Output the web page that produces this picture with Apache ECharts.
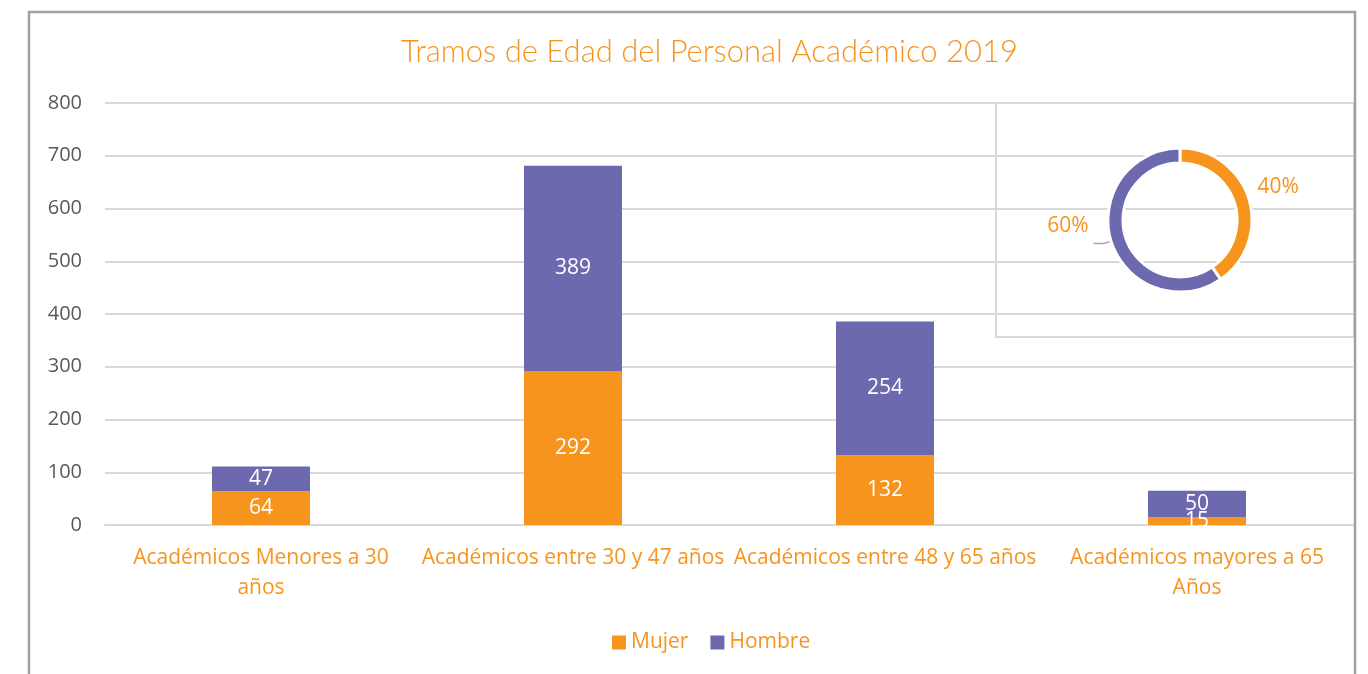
<!DOCTYPE html>
<html>
<head>
<meta charset="utf-8">
<script src="https://cdn.jsdelivr.net/npm/echarts@6/dist/echarts.min.js"></script>
<style>
  html, body { margin: 0; padding: 0; background: #fff; }
  #chart { width: 1368px; height: 674px; }
</style>
</head>
<body>
<div id="chart"></div>
<script>
// 数据
const categories = [
    'Académicos Menores a 30\naños',
    'Académicos entre 30 y 47 años',
    'Académicos entre 48 y 65 años',
    'Académicos mayores a 65\nAños'
];
const mujer = [64, 292, 132, 15];
const hombre = [47, 389, 254, 50];
const yTicks = [0, 100, 200, 300, 400, 500, 600, 700, 800];

const ORANGE = '#F7941D';
const PURPLE = '#6D69AE';
const FONT = '"Open Sans", "Noto Sans", sans-serif';

// 环形图：各性别总数
const sum = arr => arr.reduce((a, b) => a + b, 0);
const donutData = [
    { name: 'Mujer', value: sum(mujer), itemStyle: { color: ORANGE }, labelLine: { show: false } },
    { name: 'Hombre', value: sum(hombre), itemStyle: { color: PURPLE } }
];

const chart = echarts.init(document.getElementById('chart'));

chart.setOption({
    backgroundColor: '#fff',
    animation: false,
    textStyle: { fontFamily: FONT },
    title: {
        text: 'Tramos de Edad del Personal Académico 2019',
        left: 396,
        top: 31,
        textStyle: { color: ORANGE, fontSize: 31, fontWeight: 300, fontFamily: 'Lato, "Open Sans", sans-serif' }
    },
    legend: {
        data: ['Mujer', 'Hombre'],
        bottom: 16,
        left: 607,
        icon: 'rect',
        itemWidth: 14,
        itemHeight: 14,
        itemGap: 22,
        textStyle: { color: ORANGE, fontSize: 21, fontFamily: FONT }
    },
    grid: {
        left: 105,
        right: 15,
        top: 103,
        bottom: 149,
        containLabel: false
    },
    xAxis: {
        type: 'category',
        data: categories,
        axisTick: { show: false },
        axisLine: { lineStyle: { color: '#d9d9d9', width: 2 } },
        axisLabel: {
            color: ORANGE,
            fontSize: 21,
            lineHeight: 30,
            margin: 18,
            interval: 0
        }
    },
    yAxis: {
        type: 'value',
        min: yTicks[0],
        max: yTicks[yTicks.length - 1],
        interval: 100,
        axisLabel: { color: '#595959', fontSize: 20, margin: 23 },
        splitLine: { lineStyle: { color: '#d9d9d9', width: 2 } },
        axisLine: { show: false },
        axisTick: { show: false }
    },
    series: [
        {
            name: 'Mujer',
            type: 'bar',
            stack: 'total',
            data: mujer,
            barWidth: 98,
            itemStyle: { color: ORANGE },
            label: { show: true, position: 'inside', color: '#fff', fontSize: 21 }
        },
        {
            name: 'Hombre',
            type: 'bar',
            stack: 'total',
            data: hombre,
            barWidth: 98,
            itemStyle: { color: PURPLE },
            label: { show: true, position: 'inside', color: '#fff', fontSize: 21 }
        },
        {
            name: 'donut',
            type: 'pie',
            center: [1180, 220],
            radius: [57, 72],
            startAngle: 90,
            clockwise: true,
            percentPrecision: 0,
            data: donutData,
            itemStyle: { borderColor: '#fff', borderWidth: 3 },
            label: {
                show: true,
                position: 'outside',
                formatter: '{d}%',
                color: ORANGE,
                fontSize: 21
            },
            labelLine: { show: true, length: 8, length2: 10, lineStyle: { color: '#a6a6a6', width: 1.5 } },
            // 标签微调，贴近原图位置
            labelLayout: function (params) {
                if (params.dataIndex === 0) {
                    return { dx: -14, dy: -9 };
                }
                return { dy: -18 };
            },
            emphasis: { disabled: true }
        }
    ],
    graphic: [
        {
            type: 'rect',
            z: 100,
            silent: true,
            shape: { x: 29, y: 12, width: 1326, height: 700 },
            style: { fill: 'none', stroke: '#a0a0a0', lineWidth: 2.5 }
        },
        {
            type: 'rect',
            z: -1,
            silent: true,
            shape: { x: 996, y: 103, width: 358, height: 234 },
            style: { fill: 'none', stroke: '#d9d9d9', lineWidth: 2 }
        }
    ]
});
</script>
</body>
</html>
